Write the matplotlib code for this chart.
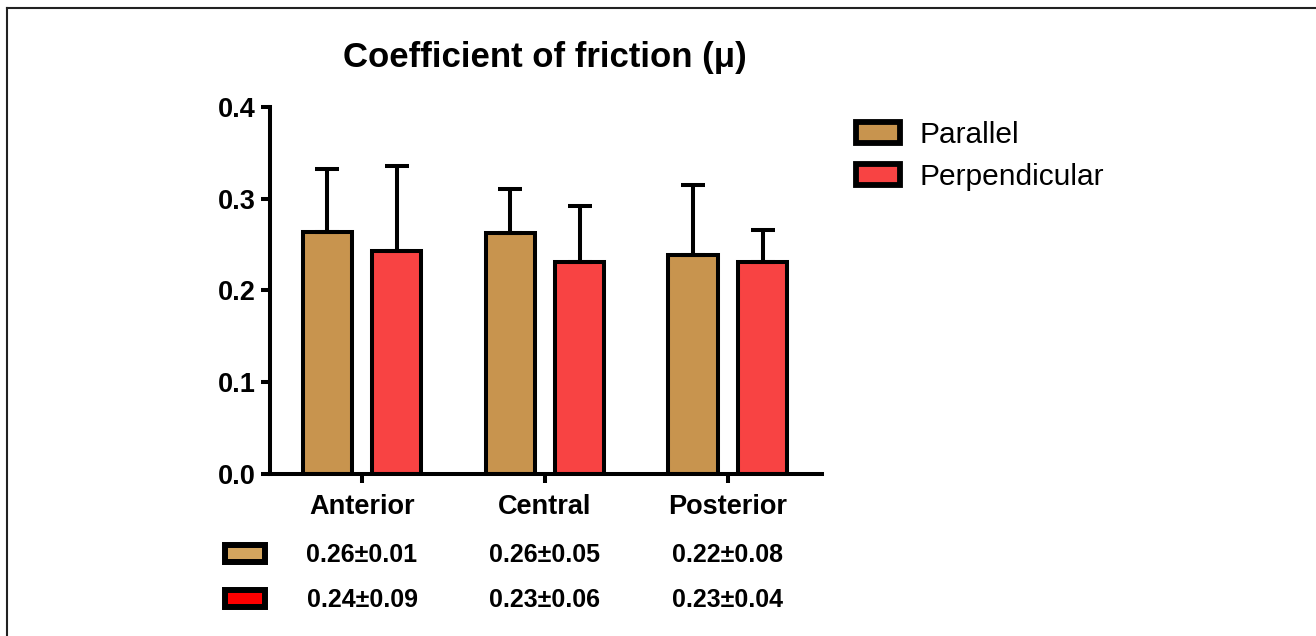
import numpy as np
import matplotlib
matplotlib.use('Agg')
import matplotlib.pyplot as plt
from matplotlib.patches import Rectangle
from matplotlib.lines import Line2D
import matplotlib.transforms as mtransforms

plt.rcParams['font.family'] = ['Liberation Sans', 'DejaVu Sans']

categories = ['Anterior', 'Central', 'Posterior']
series = ['Parallel', 'Perpendicular']
parallel = [0.264, 0.263, 0.239]
parallel_err = [0.068, 0.048, 0.076]
perpendicular = [0.243, 0.231, 0.231]
perpendicular_err = [0.093, 0.061, 0.035]
table_parallel = ['0.26\u00b10.01', '0.26\u00b10.05', '0.22\u00b10.08']
table_perp = ['0.24\u00b10.09', '0.23\u00b10.06', '0.23\u00b10.04']
yticks = [0.0, 0.1, 0.2, 0.3, 0.4]

c_par = '#C8944E'
c_perp = '#F84343'

fig = plt.figure(figsize=(13.16, 6.36), dpi=100)
ax = fig.add_axes([270/1316, 1-474/636, (822-270)/1316, (474-107)/636])

x = np.arange(len(categories))
w = 0.27
off = 0.19
lw = 2.9
ekw = dict(elinewidth=lw, capthick=lw, ecolor='black')
ax.bar(x-off, parallel, w, color=c_par, edgecolor='black', linewidth=lw, label=series[0],
       yerr=[np.zeros(3), parallel_err], capsize=8.5, error_kw=ekw)
ax.bar(x+off, perpendicular, w, color=c_perp, edgecolor='black', linewidth=lw, label=series[1],
       yerr=[np.zeros(3), perpendicular_err], capsize=8.5, error_kw=ekw)

ax.set_xlim(-0.503, 2.514)
ax.set_ylim(0, 0.4)
ax.set_yticks(yticks)
ax.set_yticklabels(['%.1f' % v for v in yticks], fontsize=19.5, fontweight='bold')
ax.set_xticks(x)
ax.set_xticklabels(categories, fontsize=19.5, fontweight='bold')
for s in ['top', 'right']:
    ax.spines[s].set_visible(False)
for s in ['left', 'bottom']:
    ax.spines[s].set_linewidth(2.9)
ax.tick_params(axis='y', width=2.9, length=6.5, pad=4)
ax.tick_params(axis='x', width=2.9, length=6.5, pad=8)

fig.text(545/1316, 1-58/636, 'Coefficient of friction (\u03bc)', ha='center', va='center',
         fontsize=25, fontweight='bold')

leg = fig.legend(loc='upper left', bbox_to_anchor=(856/1316, 1-121/636), frameon=False,
                 fontsize=21.5, handlelength=1.47, handleheight=0.74, handletextpad=0.67,
                 labelspacing=0.47, borderpad=0, borderaxespad=0)
for p in leg.get_patches():
    p.set_linewidth(4.2)

# table under the axis
tr = mtransforms.blended_transform_factory(ax.transData, fig.transFigure)
for row, (vals, col, yc) in enumerate([(table_parallel, '#D4A55E', 554),
                                       (table_perp, '#FF0000', 599)]):
    for i, v in enumerate(vals):
        fig.text(x[i], 1-(yc+1)/636, v, transform=tr, ha='center', va='center',
                 fontsize=18, fontweight='bold')
    fig.patches.append(Rectangle((225/1316, 1-(yc+8)/636), 40/1316, 17/636,
                                 transform=fig.transFigure, facecolor=col,
                                 edgecolor='black', linewidth=4.3))

# frame of the figure (top and left edges)
fig.add_artist(Line2D([7/1316, 7/1316], [0, 1-8/636], color='#222222', lw=1.5))
fig.add_artist(Line2D([7/1316, 1], [1-8/636, 1-8/636], color='#222222', lw=1.5))

fig.savefig('out.png', dpi=100)
